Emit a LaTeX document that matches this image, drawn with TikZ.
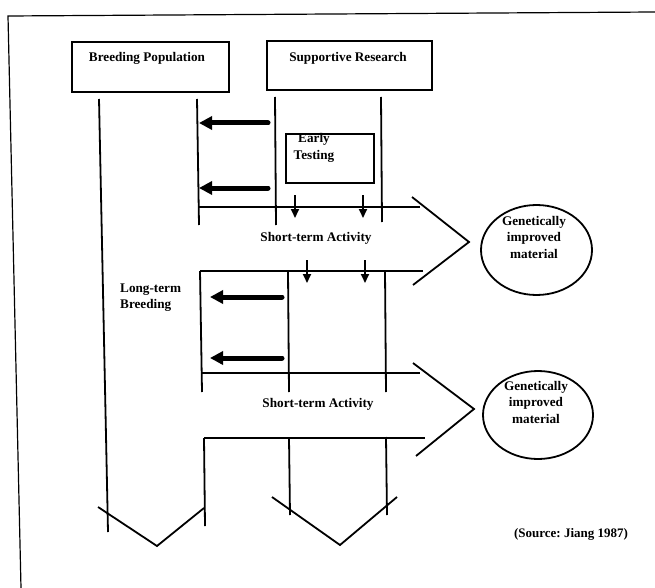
\documentclass[tikz,border=0pt]{standalone}
\usepackage{fontspec}
\setmainfont{Liberation Serif}
\usetikzlibrary{arrows.meta,shapes.geometric}
\frenchspacing
\begin{document}
\begin{tikzpicture}[x=1pt,y=-1pt,
  ln/.style={line width=1.8pt},
  frame/.style={line width=1.2pt},
  box/.style={draw,line width=1.8pt,rectangle,inner sep=0pt},
  txt/.style={font=\fontsize{13.2}{16.5}\selectfont\bfseries,inner sep=0pt,align=center},
  srctxt/.style={font=\fontsize{13}{15}\selectfont\bfseries,inner sep=0pt},
  bigarrow/.style={line width=5pt,line cap=round,-{Triangle[length=13pt,width=13pt]}},
  smallarrow/.style={line width=1.8pt,-{Triangle[length=9pt,width=8pt]}},
  ell/.style={draw,ellipse,line width=1.8pt,inner sep=0pt}]
\useasboundingbox (0,0) rectangle (655,588);
\fill[white] (0,0) rectangle (655,588);
% outer frame
\draw[frame] (655,12) -- (8,16) -- (21,588);
% top boxes
\node[box,minimum width=157pt,minimum height=50pt] (bp) at (150.5,67) {};
\node[txt] (bpt) at (147,58) {Breeding Population};
\node[box,minimum width=165pt,minimum height=49pt] (sr) at (349.5,65.5) {};
\node[txt] (srt) at (348,58) {Supportive Research};
\node[box,minimum width=88pt,minimum height=49pt] (et) at (330,158.5) {};
\node[txt] (ett) at (314,148) {Early\\Testing};
% upper verticals
\draw[ln] (99,99) -- (108,532);
\draw[ln] (197,99) -- (199,225);
\draw[ln] (275,97) -- (276,225);
\draw[ln] (381,97) -- (382,222);
% first short-term channel
\draw[ln] (199,207) -- (420,207);
\draw[ln,line join=miter] (412,197) -- (469,242) -- (413,285);
\node[txt] (st1) at (316,238) {Short-term Activity};
\draw[ln] (200,271) -- (423,271);
% middle block
\draw[ln] (200,271) -- (202,392);
\draw[ln] (288,271) -- (289,392);
\draw[ln] (385,271) -- (386,392);
\draw[ln] (201,373) -- (420,373);
\draw[ln,line join=miter] (413,363) -- (474,409) -- (416,456);
\node[txt] (st2) at (318,404) {Short-term Activity};
% bottom block
\draw[ln] (204,438) -- (425,438);
\draw[ln] (204,438) -- (205,526);
\draw[ln] (289,438) -- (290,515);
\draw[ln] (386,437) -- (387,515);
\draw[ln] (98,507) -- (157,546) -- (204,508);
\draw[ln] (272,497) -- (340,545) -- (397,497);
% big arrows
\coordinate (a1s) at (268,123); \coordinate (a1e) at (199,123);
\coordinate (a2s) at (268,188); \coordinate (a2e) at (199,188);
\coordinate (a3s) at (282,297); \coordinate (a3e) at (210,297);
\coordinate (a4s) at (282,358); \coordinate (a4e) at (210,358);
\draw[bigarrow] (a1s) -- (a1e);
\draw[bigarrow] (a2s) -- (a2e);
\draw[bigarrow] (a3s) -- (a3e);
\draw[bigarrow] (a4s) -- (a4e);
% small down arrows
\coordinate (d1s) at (295,195); \coordinate (d1e) at (295,218);
\coordinate (d2s) at (363,195); \coordinate (d2e) at (363,218);
\coordinate (d3s) at (307,260); \coordinate (d3e) at (307,283);
\coordinate (d4s) at (365,260); \coordinate (d4e) at (365,283);
\draw[smallarrow] (d1s) -- (d1e);
\draw[smallarrow] (d2s) -- (d2e);
\draw[smallarrow] (d3s) -- (d3e);
\draw[smallarrow] (d4s) -- (d4e);
% labels
\node[txt,align=left,anchor=west] (ltb) at (120,297.5) {Long-term\\Breeding};
% ellipses
\node[ell,minimum width=111pt,minimum height=90pt] (g1) at (536.5,250) {};
\node[txt] (g1t) at (534,237) {Genetically\\improved\\material};
\node[ell,minimum width=110pt,minimum height=88pt] (g2) at (538,415) {};
\node[txt] (g2t) at (536,402) {Genetically\\improved\\material};
\node[srctxt] (src) at (571,534) {(Source: Jiang 1987)};
\end{tikzpicture}
\end{document}
